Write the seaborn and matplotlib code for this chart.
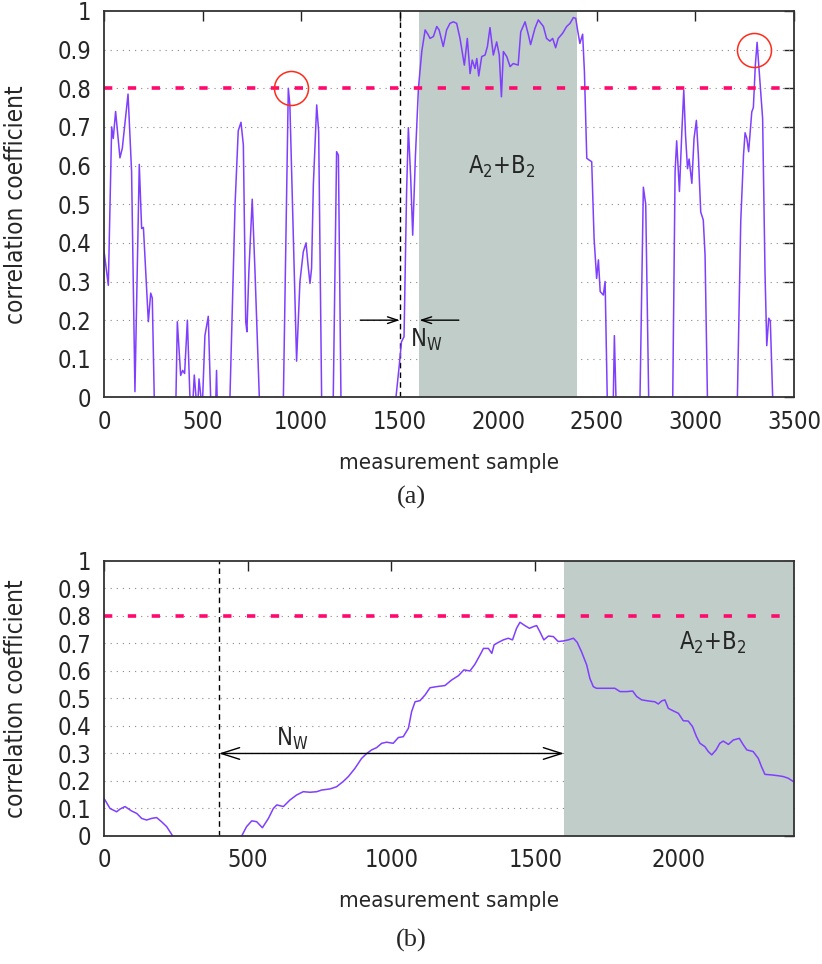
import matplotlib
matplotlib.use("Agg")
import matplotlib.pyplot as plt
import seaborn as sns

# panel (a): correlation coefficient along the whole trace (values below 0 are clipped)
top_x = [0, 22, 39, 47, 59, 81, 93, 122, 140, 157, 179, 191, 200, 225, 237, 245, 255, 262, 358,
         365, 372, 389, 399, 409, 423, 436, 447, 458, 467, 474, 482, 492, 497, 512, 529, 541, 550,
         565, 571, 576, 590, 630, 639, 665, 681, 695, 707, 719, 725, 735, 752, 766, 788, 800, 900,
         910, 935, 943, 977, 994, 1011, 1025, 1035, 1045, 1053, 1062, 1079, 1089, 1104, 1112, 1155,
         1163, 1180, 1189, 1202, 1210, 1470, 1481, 1498, 1509, 1522, 1535, 1544, 1556, 1566, 1580,
         1595, 1612, 1629, 1645, 1654, 1671, 1688, 1700, 1721, 1738, 1755, 1772, 1789, 1806, 1828,
         1843, 1857, 1868, 1882, 1891, 1901, 1916, 1933, 1945, 1958, 1975, 1992, 2005, 2016, 2026,
         2043, 2060, 2076, 2101, 2114, 2136, 2153, 2164, 2186, 2203, 2229, 2245, 2262, 2276, 2291,
         2304, 2326, 2347, 2364, 2381, 2393, 2401, 2414, 2428, 2437, 2449, 2459, 2474, 2486, 2499,
         2508, 2517, 2533, 2542, 2553, 2560, 2575, 2582, 2589, 2597, 2605, 2710, 2719, 2736, 2748,
         2763, 2772, 2876, 2885, 2897, 2905, 2919, 2931, 2941, 2950, 2960, 2968, 2982, 2993, 3005,
         3015, 3027, 3040, 3049, 3061, 3070, 3204, 3213, 3230, 3244, 3252, 3261, 3270, 3286, 3294,
         3304, 3313, 3324, 3341, 3353, 3362, 3372, 3380, 3392, 3400]
top_y = [0.38, 0.29, 0.70, 0.67, 0.74, 0.62, 0.645, 0.785, 0.585, 0.015, 0.603, 0.437, 0.44, 0.196,
         0.27, 0.257, 0.0, -0.2, -0.2, 0.0, 0.196, 0.057, 0.07, 0.062, 0.2, 0.0, -0.05, 0.058, 0.0,
         -0.04, 0.048, 0.0, -0.05, 0.16, 0.21, 0.0, -0.1, -0.05, 0.07, -0.05, -0.2, -0.2, 0.0, 0.5,
         0.69, 0.712, 0.653, 0.196, 0.17, 0.326, 0.513, 0.326, 0.0, -0.2, -0.2, 0.0, 0.8, 0.757,
         0.094, 0.3, 0.377, 0.4, 0.343, 0.295, 0.334, 0.55, 0.757, 0.688, 0.0, -0.2, -0.2, 0.0,
         0.636, 0.627, 0.0, -0.2, -0.2, 0.0, 0.084, 0.144, 0.157, 0.532, 0.698, 0.566, 0.42, 0.627,
         0.8, 0.895, 0.951, 0.938, 0.929, 0.934, 0.96, 0.951, 0.908, 0.951, 0.968, 0.972, 0.968,
         0.929, 0.86, 0.929, 0.838, 0.873, 0.851, 0.877, 0.832, 0.882, 0.886, 0.908, 0.957, 0.886,
         0.92, 0.886, 0.778, 0.895, 0.882, 0.856, 0.864, 0.86, 0.946, 0.972, 0.938, 0.913, 0.955,
         0.977, 0.96, 0.929, 0.922, 0.929, 0.905, 0.929, 0.942, 0.96, 0.968, 0.983, 0.981, 0.955,
         0.916, 0.94, 0.843, 0.619, 0.615, 0.61, 0.412, 0.308, 0.356, 0.274, 0.265, 0.3, 0.0, -0.2,
         -0.1, -0.05, 0.16, 0.0, -0.2, -0.2, 0.0, 0.544, 0.5, 0.0, -0.2, -0.2, 0.0, 0.585, 0.664,
         0.533, 0.685, 0.795, 0.678, 0.592, 0.617, 0.554, 0.67, 0.717, 0.627, 0.48, 0.459, 0.368,
         0.0, -0.2, -0.2, 0.0, 0.455, 0.627, 0.685, 0.67, 0.636, 0.739, 0.75, 0.86, 0.919, 0.843,
         0.722, 0.326, 0.134, 0.205, 0.198, 0.0, -0.2]

# panel (b): zoom on the first window
bot_x = [0, 21, 44, 56, 73, 96, 114, 131, 148, 166, 183, 200, 218, 239, 250, 470, 479, 496, 514,
         531, 551, 572, 589, 601, 624, 647, 670, 693, 717, 740, 757, 786, 809, 832, 850, 873, 896,
         914, 931, 948, 966, 983, 1006, 1024, 1041, 1059, 1070, 1082, 1099, 1117, 1134, 1157, 1186,
         1209, 1233, 1252, 1273, 1290, 1308, 1320, 1337, 1349, 1357, 1372, 1389, 1406, 1421, 1435,
         1447, 1464, 1480, 1493, 1505, 1516, 1530, 1546, 1563, 1580, 1597, 1615, 1633, 1646, 1661,
         1679, 1690, 1702, 1713, 1736, 1760, 1777, 1795, 1818, 1839, 1853, 1870, 1893, 1916, 1928,
         1940, 1951, 1963, 1980, 1998, 2015, 2032, 2047, 2061, 2073, 2090, 2102, 2114, 2129, 2142,
         2154, 2172, 2189, 2210, 2224, 2236, 2258, 2276, 2287, 2299, 2322, 2346, 2363, 2380, 2398]
bot_y = [0.137, 0.1, 0.088, 0.098, 0.107, 0.091, 0.082, 0.064, 0.058, 0.064, 0.067, 0.052, 0.034,
         0.0, -0.05, -0.05, 0.0, 0.034, 0.055, 0.052, 0.03, 0.064, 0.1, 0.113, 0.107, 0.131, 0.149,
         0.161, 0.159, 0.161, 0.167, 0.171, 0.179, 0.198, 0.216, 0.246, 0.282, 0.3, 0.313, 0.321,
         0.337, 0.341, 0.337, 0.358, 0.361, 0.392, 0.452, 0.488, 0.492, 0.513, 0.539, 0.543, 0.547,
         0.567, 0.583, 0.604, 0.6, 0.624, 0.658, 0.682, 0.682, 0.664, 0.695, 0.704, 0.713, 0.719,
         0.713, 0.755, 0.777, 0.765, 0.755, 0.761, 0.765, 0.743, 0.713, 0.727, 0.725, 0.707, 0.709,
         0.713, 0.719, 0.704, 0.67, 0.622, 0.573, 0.543, 0.537, 0.537, 0.537, 0.537, 0.525, 0.525,
         0.527, 0.507, 0.495, 0.491, 0.488, 0.48, 0.491, 0.495, 0.464, 0.455, 0.446, 0.419, 0.418,
         0.398, 0.361, 0.337, 0.325, 0.307, 0.295, 0.313, 0.337, 0.345, 0.333, 0.349, 0.355, 0.331,
         0.313, 0.307, 0.282, 0.252, 0.224, 0.222, 0.219, 0.216, 0.21, 0.198]

threshold = 0.8
region_a = (1600, 2400)   # A2+B2 shaded span, panel (a)
region_b = (1600, 2400)   # panel (b)
window_start_a = 1500
window_start_b = 400
peaks_x = [950, 3297]
peaks_y = [0.8, 0.9]

yticks = [0, 0.1, 0.2, 0.3, 0.4, 0.5, 0.6, 0.7, 0.8, 0.9, 1]
ytick_labels = ["0", "0.1", "0.2", "0.3", "0.4", "0.5", "0.6", "0.7", "0.8", "0.9", "1"]
xticks_a = [0, 500, 1000, 1500, 2000, 2500, 3000, 3500]
xticks_b = [0, 500, 1000, 1500, 2000]

sns.set_theme(style="white")
plt.rcParams["font.family"] = ["DejaVu Sans"]
plt.rcParams["font.stretch"] = "condensed"

LINE = "#7f3fff"
THR = "#ff0a6c"
SHADE = "#c1cdc9"
FS = 17      # tick labels
XFS = 16     # x label
YFS = 17.5   # y label

fig = plt.figure(figsize=(8.22, 9.64), dpi=100)
ax_a = fig.add_axes([0.1265, 0.5877, 0.8394, 0.4009])
ax_b = fig.add_axes([0.1265, 0.1328, 0.8394, 0.2853])


def style_axes(ax, xlim, xticks):
    ax.set_xlim(*xlim)
    ax.set_ylim(0, 1)
    ax.set_xticks(xticks)
    ax.set_yticks(yticks, ytick_labels)
    ax.tick_params(direction="in", length=7, width=1, top=True, right=True,
                   labelsize=FS, pad=9, color="#222222")
    ax.grid(False)
    for y in yticks[1:-1]:
        ax.axhline(y, color="#888888", lw=0.8, ls=(0, (1, 4.5)), zorder=1)
    for sp in ax.spines.values():
        sp.set_linewidth(1.3)
        sp.set_color("#333333")
        sp.set_zorder(6)
    ax.set_xlabel("measurement sample", fontsize=XFS)
    ax.set_ylabel("correlation coefficient", fontsize=YFS)
    ax.yaxis.set_label_coords(-0.11, 0.5)


# ---- panel (a)
style_axes(ax_a, (0, 3500), xticks_a)
ax_a.xaxis.set_label_coords(0.5, -0.145)
ax_a.axvspan(*region_a, color=SHADE, lw=0, zorder=2.7)
sns.lineplot(x=top_x, y=top_y, ax=ax_a, color=LINE, lw=1.1, sort=False, zorder=4)
ax_a.axhline(threshold, color=THR, lw=2.6, ls=(0, (2.3, 4.3)), zorder=5)
ax_a.axvline(window_start_a, color="black", lw=1, ls=(0, (4, 3)), zorder=3)
ax_a.plot(peaks_x, peaks_y, ls="none", marker="o", ms=24.5, mfc="none", mec="#ff2a1a",
          mew=1.1, zorder=5)
arrow = dict(arrowstyle="->,head_length=0.6,head_width=0.2", lw=1, color="black",
             shrinkA=0, shrinkB=0)
ax_a.annotate("", xy=(1500, 0.2), xytext=(1300, 0.2), arrowprops=arrow, zorder=5)
ax_a.annotate("", xy=(1600, 0.2), xytext=(1800, 0.2), arrowprops=arrow, zorder=5)
ax_a.text(1552, 0.13, r"N$_{\mathrm{W}}$", fontsize=FS, va="baseline", ha="left", zorder=6)
ax_a.text(1848, 0.58, r"A$_{2}$+B$_{2}$", fontsize=FS, va="baseline", ha="left", zorder=6)

# ---- panel (b)
style_axes(ax_b, (0, 2400), xticks_b)
ax_b.xaxis.set_label_coords(0.5, -0.2)
ax_b.axvspan(*region_b, color=SHADE, lw=0, zorder=2.7)
sns.lineplot(x=bot_x, y=bot_y, ax=ax_b, color=LINE, lw=1.1, sort=False, zorder=4)
ax_b.axhline(threshold, color=THR, lw=2.6, ls=(0, (2.3, 4.3)), zorder=5)
ax_b.axvline(window_start_b, color="black", lw=1, ls=(0, (4, 3)), zorder=3)
ax_b.annotate("", xy=(1600, 0.3), xytext=(400, 0.3),
              arrowprops=dict(arrowstyle="<->,head_length=1.1,head_width=0.35", lw=1,
                              color="black", shrinkA=0, shrinkB=0), zorder=5)
ax_b.text(600, 0.327, r"N$_{\mathrm{W}}$", fontsize=FS, va="baseline", ha="left", zorder=6)
ax_b.text(2000, 0.676, r"A$_{2}$+B$_{2}$", fontsize=FS, va="baseline", ha="left", zorder=6)

fig.text(0.5, 1 - 497 / 964, "(a)", fontsize=19, family="Liberation Serif",
         ha="center", va="center", stretch="normal")
fig.text(0.5, 1 - 940 / 964, "(b)", fontsize=19, family="Liberation Serif",
         ha="center", va="center", stretch="normal")

fig.savefig("out.png", dpi=100)
